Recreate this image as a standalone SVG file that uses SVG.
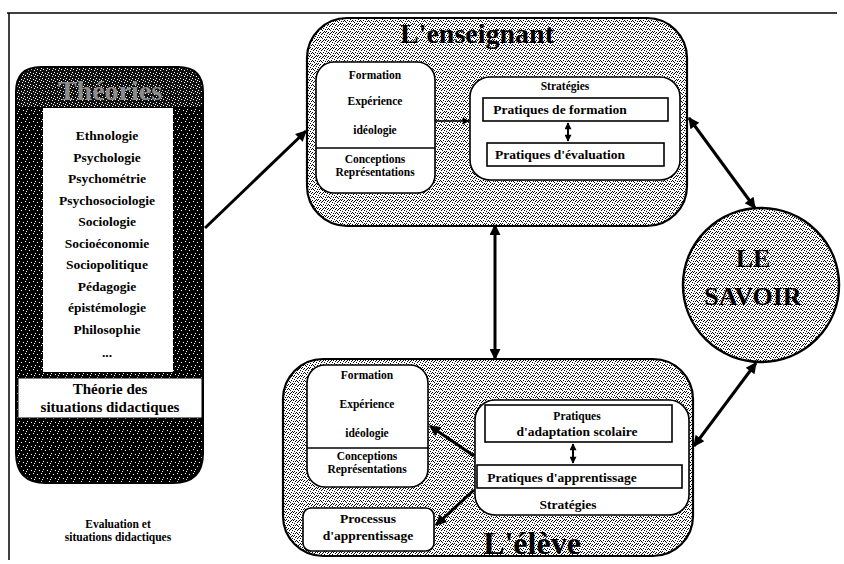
<svg xmlns="http://www.w3.org/2000/svg" width="844" height="564" viewBox="0 0 844 564">
  <style>
    text { font-family: "Liberation Serif", "Times New Roman", serif; font-weight: bold; fill: #000; text-anchor: middle; }
    .sm { font-size: 11.5px; }
    .md { font-size: 13.5px; }
    .lst { font-size: 13.5px; }
    .title { font-size: 28px; }
    .box { fill: #fff; stroke: #000; stroke-width: 1.6; }
    .shell { fill: url(#stipple); stroke: #000; stroke-width: 2.2; }
    .link { stroke: #000; stroke-width: 3; fill: none; }
    .thin { stroke: #000; stroke-width: 1.5; fill: none; }
  </style>
  <defs>
    <!-- grey stipple used for the large containers -->
    <pattern id="stipple" width="8" height="8" patternUnits="userSpaceOnUse">
      <rect width="8" height="8" fill="#fff"/>
      <path fill="#000" d="M0 0h1v1h-1zM3 0h1v1h-1zM5 0h1v1h-1zM2 1h1v1h-1zM7 1h1v1h-1zM1 2h1v1h-1zM4 2h1v1h-1zM6 3h1v1h-1zM0 4h1v1h-1zM3 4h1v1h-1zM5 5h1v1h-1zM7 5h1v1h-1zM2 6h1v1h-1zM4 7h1v1h-1zM6 7h1v1h-1zM1 5h1v1h-1z"/>
    </pattern>
    <!-- dark speckle used for the theory column -->
    <pattern id="dark" width="8" height="8" patternUnits="userSpaceOnUse">
      <rect width="8" height="8" fill="#000"/>
      <path fill="#fff" d="M1 1h1v1h-1zM5 2h1v1h-1zM3 5h1v1h-1zM7 6h1v1h-1zM2 7h1v1h-1z"/>
    </pattern>
    <pattern id="band" width="6" height="6" patternUnits="userSpaceOnUse">
      <rect width="6" height="6" fill="#111"/>
      <path fill="#fff" d="M0 0h1v1h-1zM3 1h1v1h-1zM1 3h1v1h-1zM4 4h1v1h-1zM5 2h1v1h-1z"/>
    </pattern>
    <marker id="ah" viewBox="0 0 10 10" refX="9" refY="5" markerWidth="13" markerHeight="11" markerUnits="userSpaceOnUse" orient="auto-start-reverse">
      <path d="M0 0L10 5L0 10z" fill="#000"/>
    </marker>
    <marker id="ahs" viewBox="0 0 10 10" refX="9" refY="5" markerWidth="8" markerHeight="7" markerUnits="userSpaceOnUse" orient="auto-start-reverse">
      <path d="M0 0L10 5L0 10z" fill="#000"/>
    </marker>
  </defs>

  <rect width="844" height="564" fill="#fff"/>

  <!-- page frame -->
  <g id="frame" class="thin">
    <line x1="7" y1="13" x2="837" y2="13"/>
    <line x1="9" y1="13" x2="9" y2="560"/>
  </g>

  <!-- column of theories -->
  <g id="theories">
    <path d="M16 108 V92 Q16 67 41 67 H178 Q203 67 203 92 V108 Z" fill="url(#band)" stroke="#000" stroke-width="2"/>
    <text x="110" y="100" class="title" style="fill:#8c8c8c">Théories</text>
    <path d="M16 108 H203 V453 Q203 483 173 483 H46 Q16 483 16 453 Z" fill="url(#dark)" stroke="#000" stroke-width="2"/>
    <rect x="43" y="108" width="130" height="264" fill="#fff"/>
    <rect x="18" y="378" width="184" height="40" fill="#fff" stroke="#000" stroke-width="1"/>
    <g class="lst">
      <text x="107" y="140">Ethnologie</text>
      <text x="107" y="161.5">Psychologie</text>
      <text x="107" y="183">Psychométrie</text>
      <text x="107" y="204.5">Psychosociologie</text>
      <text x="107" y="226">Sociologie</text>
      <text x="107" y="247.5">Socioéconomie</text>
      <text x="107" y="269">Sociopolitique</text>
      <text x="107" y="290.5">Pédagogie</text>
      <text x="107" y="312">épistémologie</text>
      <text x="107" y="333.5">Philosophie</text>
      <text x="107" y="357">...</text>
    </g>
    <text x="110" y="394" style="font-size:15px">Théorie des</text>
    <text x="110" y="412" style="font-size:15px">situations didactiques</text>
  </g>

  <g id="evaluation">
    <text x="118" y="528" class="sm">Evaluation et</text>
    <text x="118" y="541" class="sm">situations didactiques</text>
  </g>

  <!-- the teacher -->
  <g id="enseignant">
    <rect x="307" y="18" width="380" height="208" rx="40" class="shell"/>
    <text x="477" y="43" class="title">L'enseignant</text>
    <rect x="316" y="62" width="119" height="131" rx="18" class="box"/>
    <line x1="316" y1="148" x2="435" y2="148" class="thin"/>
    <g class="sm">
      <text x="375" y="79">Formation</text>
      <text x="375" y="105">Expérience</text>
      <text x="375" y="134">idéologie</text>
      <text x="375" y="163">Conceptions</text>
      <text x="375" y="176">Représentations</text>
    </g>
    <rect x="470" y="77" width="210" height="103" rx="20" class="box"/>
    <text x="565" y="90" class="sm">Stratégies</text>
    <rect x="483" y="98" width="185" height="23" class="box"/>
    <text x="560" y="114" class="md">Pratiques de formation</text>
    <rect x="487" y="143" width="177" height="23" class="box"/>
    <text x="560" y="159" class="md">Pratiques d'évaluation</text>
    <line x1="568" y1="123" x2="568" y2="141" stroke="#000" stroke-width="2" marker-start="url(#ahs)" marker-end="url(#ahs)"/>
  </g>

  <!-- the pupil -->
  <g id="eleve">
    <rect x="283" y="359" width="410" height="197" rx="40" class="shell"/>
    <text x="532" y="554" style="font-size:32px">L'élève</text>
    <rect x="307" y="365" width="121" height="122" rx="18" class="box"/>
    <line x1="307" y1="448" x2="428" y2="448" class="thin"/>
    <g class="sm">
      <text x="367" y="379">Formation</text>
      <text x="367" y="408">Expérience</text>
      <text x="367" y="437">idéologie</text>
      <text x="367" y="460">Conceptions</text>
      <text x="367" y="473">Représentations</text>
    </g>
    <rect x="475" y="400" width="214" height="115" rx="20" class="box"/>
    <rect x="485" y="405" width="187" height="37" class="box"/>
    <text x="577" y="420" class="sm">Pratiques</text>
    <text x="577" y="436" class="md">d'adaptation scolaire</text>
    <rect x="477" y="465" width="205" height="23" class="box"/>
    <text x="562" y="482" class="md">Pratiques d'apprentissage</text>
    <text x="568" y="509" class="md">Stratégies</text>
    <line x1="573" y1="444" x2="573" y2="463" stroke="#000" stroke-width="2" marker-start="url(#ahs)" marker-end="url(#ahs)"/>
  </g>

  <g id="processus">
    <rect x="303" y="508" width="131" height="43" rx="8" class="box"/>
    <text x="368" y="523" class="md">Processus</text>
    <text x="368" y="540" class="md">d'apprentissage</text>
  </g>

  <!-- knowledge -->
  <g id="savoir">
    <ellipse cx="761" cy="285" rx="78" ry="77" fill="url(#stipple)" stroke="#000" stroke-width="2.5"/>
    <text x="753" y="267" style="font-size:26px">LE</text>
    <text x="753" y="305" style="font-size:26px">SAVOIR</text>
  </g>

  <!-- connectors -->
  <g id="connectors">
    <line x1="205" y1="228" x2="306" y2="131" class="link" marker-end="url(#ah)"/>
    <line x1="435" y1="121" x2="469" y2="121" stroke="#000" stroke-width="1.5" marker-end="url(#ahs)"/>
    <line x1="495" y1="225" x2="495" y2="359" class="link" marker-start="url(#ah)" marker-end="url(#ah)"/>
    <line x1="689" y1="118" x2="755" y2="208" class="link" marker-start="url(#ah)" marker-end="url(#ah)"/>
    <line x1="694" y1="446" x2="756" y2="363" class="link" marker-start="url(#ah)" marker-end="url(#ah)"/>
    <line x1="474" y1="456" x2="430" y2="426" class="link" marker-end="url(#ah)"/>
    <line x1="474" y1="490" x2="436" y2="525" class="link" marker-end="url(#ah)"/>
  </g>
</svg>
